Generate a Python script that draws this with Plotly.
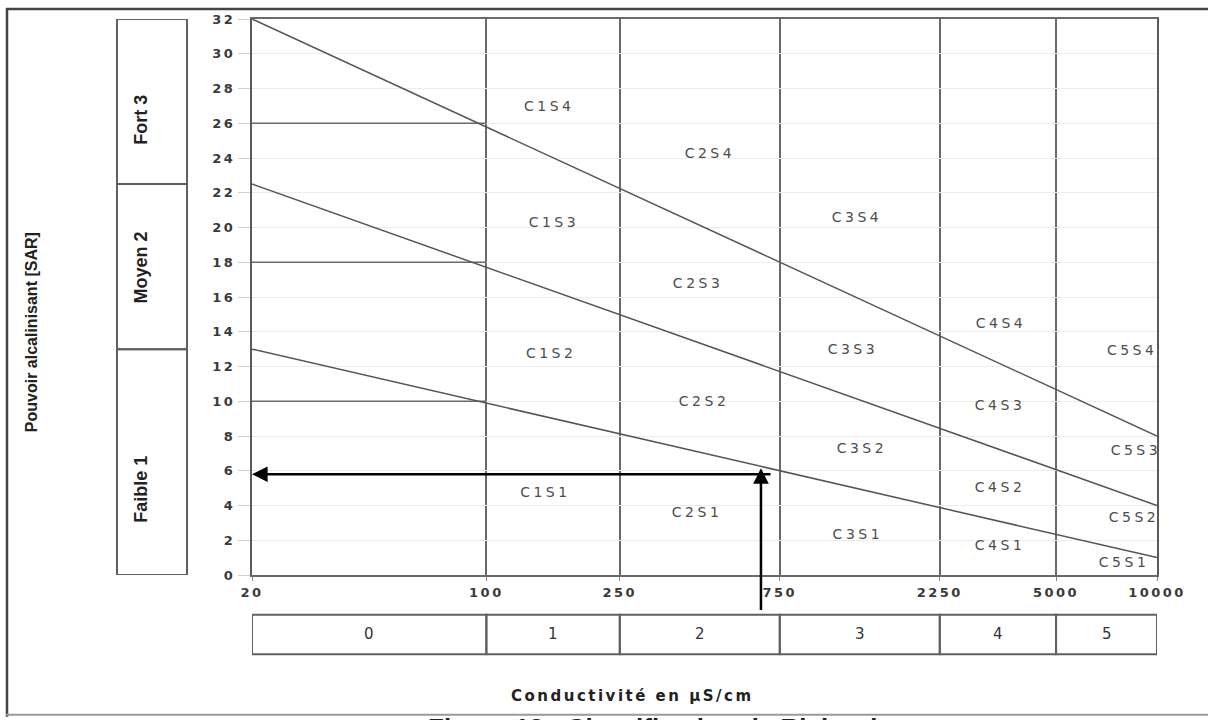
import math
import plotly.graph_objects as go

# ---------------- data ----------------
ec_ticks = [20, 100, 250, 750, 2250, 5000, 10000]
ec_tick_text = ["20", "100", "250", "750", "2250", "5000", "10000"]
sar_ticks = [0, 2, 4, 6, 8, 10, 12, 14, 16, 18, 20, 22, 24, 26, 28, 30, 32]

salinity_classes = ["0", "1", "2", "3", "4", "5"]
alkali_classes = ["Faible 1", "Moyen 2", "Fort 3"]
alkali_bounds = [0, 13, 22.5, 32]
alkali_label_sar = [4.9, 17.7, 26.2]

line_ec = [20, 10000]
line_s4 = [32, 8]
line_s3 = [22.5, 4]
line_s2 = [13, 1]

class_limit_sar = [10, 18, 26]
class_limit_ec = [20, 100]

zone_names = ["C1S4", "C2S4", "C1S3", "C3S4", "C2S3", "C4S4", "C1S2", "C3S3",
              "C5S4", "C2S2", "C4S3", "C3S2", "C5S3", "C4S2", "C1S1", "C2S1",
              "C5S2", "C3S1", "C4S1", "C5S1"]
zone_ec = [154, 464, 159, 1274, 428, 3427, 156, 1239,
           8432, 446, 3404, 1318, 8650, 3404, 150, 425,
           8540, 1282, 3404, 7977]
zone_sar = [26.9, 24.2, 20.25, 20.5, 16.7, 14.4, 12.7, 12.9,
            12.85, 9.9, 9.7, 7.2, 7.1, 5.0, 4.7, 3.55,
            3.25, 2.3, 1.65, 0.65]

sample_ec = 659
sample_sar = 5.8
sample_line_end_ec = 711
sample_arrow_top_sar = 6.15
sample_arrow_bottom_sar = -2.1

# ---------------- figure ----------------
W, H = 1208, 720
L, R, T, B = 252, 51, 14, 145
PW, PH = W - L - R, H - T - B


def px_x(px):
    return (px - L) / PW


def px_y(py):
    return (H - B - py) / PH


def wide(s, sp):
    return '<span style="letter-spacing:%.1fpx">%s</span>' % (sp, s)


ARIAL = "Liberation Sans, Arial, sans-serif"
WIDE = "DejaVu Sans, Verdana, sans-serif"
fig = go.Figure()

# class limit lines (S1/S2/S3/S4 between 20 and 100)
for s in class_limit_sar:
    fig.add_trace(go.Scatter(x=class_limit_ec, y=[s, s], mode="lines",
                             line=dict(color="#6a6a6a", width=1.5),
                             hoverinfo="skip", showlegend=False))

# diagonal separation lines
for ys in (line_s4, line_s3, line_s2):
    fig.add_trace(go.Scatter(x=line_ec, y=ys, mode="lines",
                             line=dict(color="#555555", width=1.5),
                             hoverinfo="skip", showlegend=False))

# zone labels
fig.add_trace(go.Scatter(x=zone_ec, y=zone_sar, mode="text",
                         text=[wide(n, 3.5) for n in zone_names],
                         textfont=dict(family=WIDE, size=14, color="#4d4d4d"),
                         textposition="middle center",
                         hoverinfo="skip", showlegend=False))

shapes = []
annotations = []

# left alkalinity boxes
for i, name in enumerate(alkali_classes):
    shapes.append(dict(type="rect", xref="paper", yref="y",
                       x0=px_x(117), x1=px_x(187),
                       y0=alkali_bounds[i], y1=alkali_bounds[i + 1],
                       line=dict(color="#606060", width=2), fillcolor="rgba(0,0,0,0)"))
    annotations.append(dict(xref="paper", yref="y", x=px_x(141), y=alkali_label_sar[i],
                            xanchor="center", yanchor="middle",
                            text="<b>%s</b>" % name, textangle=-90, showarrow=False,
                            font=dict(family=ARIAL, size=18, color="#222222")))

# bottom salinity boxes
for i, name in enumerate(salinity_classes):
    a, b = ec_ticks[i], ec_ticks[i + 1]
    shapes.append(dict(type="rect", xref="x", yref="paper",
                       x0=a, x1=b, y0=px_y(655), y1=px_y(615),
                       line=dict(color="#606060", width=2), fillcolor="rgba(0,0,0,0)"))
    annotations.append(dict(xref="x", yref="paper", x=(math.log10(a) + math.log10(b)) / 2,
                            y=px_y(635), xanchor="center", yanchor="middle",
                            text=name, showarrow=False,
                            font=dict(family=WIDE, size=15, color="#333333")))

# outer frame (top, left, bottom)
shapes.append(dict(type="line", xref="paper", yref="paper", x0=px_x(6), x1=px_x(1215),
                   y0=px_y(4), y1=px_y(4), line=dict(color="#444444", width=2.5)))
shapes.append(dict(type="line", xref="paper", yref="paper", x0=px_x(7), x1=px_x(7),
                   y0=px_y(3), y1=px_y(718), line=dict(color="#444444", width=2.5)))
shapes.append(dict(type="line", xref="paper", yref="paper", x0=px_x(6), x1=px_x(1215),
                   y0=px_y(716), y1=px_y(716), line=dict(color="#9a9a9a", width=2)))

# arrows for the sample point
annotations.append(dict(xref="x", yref="y", axref="x", ayref="y",
                        x=math.log10(ec_ticks[0]), y=sample_sar,
                        ax=math.log10(sample_line_end_ec), ay=sample_sar,
                        text="", showarrow=True, arrowhead=2, arrowsize=1.25,
                        arrowwidth=2.5, arrowcolor="#000000"))
annotations.append(dict(xref="x", yref="y", axref="x", ayref="y",
                        x=math.log10(sample_ec), y=sample_arrow_top_sar,
                        ax=math.log10(sample_ec), ay=sample_arrow_bottom_sar,
                        text="", showarrow=True, arrowhead=2, arrowsize=1.25,
                        arrowwidth=2.5, arrowcolor="#000000"))

# axis titles
annotations.append(dict(xref="paper", yref="paper", x=px_x(31), y=px_y(330),
                        xanchor="center", yanchor="middle",
                        text="<b>Pouvoir alcalinisant [SAR]</b>", textangle=-90,
                        showarrow=False, font=dict(family=ARIAL, size=16, color="#222222")))
annotations.append(dict(xref="paper", yref="paper", x=px_x(632), y=px_y(697),
                        xanchor="center", yanchor="middle",
                        text="<b>" + wide("Conductivité en µS/cm", 2.5) + "</b>",
                        showarrow=False, font=dict(family=WIDE, size=15, color="#222222")))
# partially visible caption (cut by the bottom edge, as in the source picture)
annotations.append(dict(xref="paper", yref="paper", x=px_x(660), y=px_y(712),
                        xanchor="center", yanchor="top",
                        text="<b>Figure 13 : Classification de Richards</b>",
                        showarrow=False, font=dict(family=ARIAL, size=26, color="#222222")))

tickfont = dict(family=WIDE, size=13, color="#3a3a3a", weight="bold")

fig.update_layout(
    width=W, height=H,
    margin=dict(l=L, r=R, t=T, b=B, pad=0),
    paper_bgcolor="white", plot_bgcolor="white",
    shapes=shapes, annotations=annotations,
    showlegend=False,
    xaxis=dict(type="log", range=[math.log10(ec_ticks[0]), math.log10(ec_ticks[-1])],
               tickmode="array", tickvals=ec_ticks,
               ticktext=[wide(t, 2.5) for t in ec_tick_text],
               showgrid=True, gridcolor="#6a6a6a", gridwidth=2,
               showline=True, linecolor="#6a6a6a", linewidth=2, mirror=True,
               ticks="outside", ticklen=4, tickcolor="#888888",
               tickfont=tickfont, zeroline=False, fixedrange=True),
    yaxis=dict(range=[0, 32], tickmode="array", tickvals=sar_ticks,
               ticktext=[wide(str(v), 2.5) for v in sar_ticks],
               showgrid=True, gridcolor="#ececec", gridwidth=1,
               showline=True, linecolor="#5a5a5a", linewidth=2, mirror=True,
               ticks="outside", ticklen=12, tickcolor="#cfcfcf",
               tickfont=tickfont, zeroline=False, fixedrange=True),
)

fig.write_html("out.html", config={"displayModeBar": False},
               post_script="document.body.style.margin='0';document.body.style.overflow='hidden';")
